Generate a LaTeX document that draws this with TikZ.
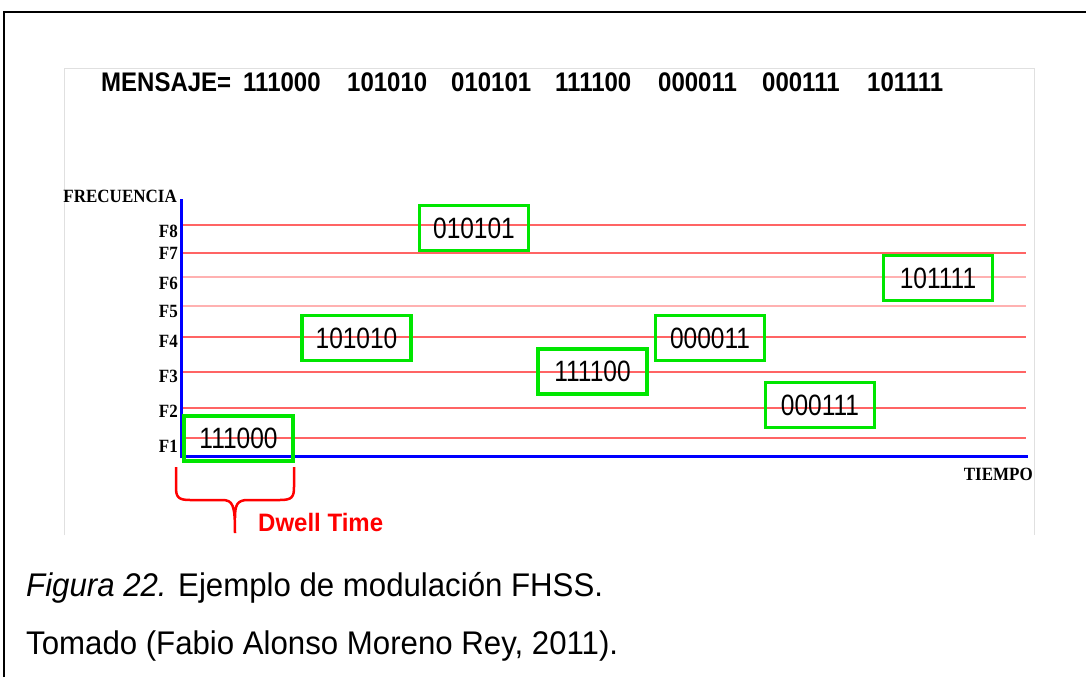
\documentclass[tikz,border=0pt]{standalone}
\usepackage{graphicx}
\usepackage{fontspec}
\setmainfont{Liberation Sans}
\newfontfamily\serifface{Liberation Serif}
% text set slightly taller than wide
\newcommand{\tallbox}[2]{\scalebox{1}[#1]{#2}}
\begin{document}
\begin{tikzpicture}[x=1pt,y=-1pt,
  hopbox/.style={draw=hopgreen,line width=3.5pt,minimum width=109pt,minimum height=45pt,
    inner sep=0pt,font=\fontsize{24.5}{28}\selectfont},
  msg/.style={anchor=base west,inner sep=0pt,font=\bfseries\fontsize{24}{28}\selectfont},
  flabel/.style={anchor=base east,inner sep=0pt,font=\serifface\bfseries\fontsize{17}{19}\selectfont},
  chan/.style={draw=chanred,line width=2pt},
  chanlight/.style={draw=chanred!50,line width=2pt},
  axis/.style={draw=blue,line width=3pt},
  caption/.style={anchor=base west,inner sep=0pt,font=\fontsize{31.2}{36}\selectfont}]
\definecolor{hopgreen}{RGB}{0,230,0}
\definecolor{chanred}{RGB}{255,100,100}
\useasboundingbox (0,0) rectangle (1086,677);
\fill[white] (0,0) rectangle (1086,677);

% outer frame: top and left rules
\draw[line width=2.5pt] (4,677) -- (4,12) -- (1086,12);

% figure panel
\draw[black!12,line width=1pt] (64,535) -- (64,68) -- (1034,68) -- (1034,535);

% message line
\node[msg] (mhead) at (101,92) {\tallbox{1.12}{MENSAJE=}};
\node[msg] (m1) at (243,92) {\tallbox{1.12}{111000}};
\node[msg] (m2) at (347,92) {\tallbox{1.12}{101010}};
\node[msg] (m3) at (451,92) {\tallbox{1.12}{010101}};
\node[msg] (m4) at (555,92) {\tallbox{1.12}{111100}};
\node[msg] (m5) at (658,92) {\tallbox{1.12}{000011}};
\node[msg] (m6) at (762,92) {\tallbox{1.12}{000111}};
\node[msg] (m7) at (867,92) {\tallbox{1.12}{101111}};

% channel lines F1..F8
\foreach \n/\y/\st in {8/225/chan,7/253/chan,6/277/chanlight,5/306/chanlight,
                      4/337/chan,3/372/chan,2/408/chan,1/438/chan}{
  \coordinate (c\n a) at (183,\y);
  \coordinate (c\n b) at (1026,\y);
  \draw[\st] (c\n a) -- (c\n b);
}

% axes
\coordinate (origin) at (181.5,456);
\coordinate (ytop) at (181.5,199);
\coordinate (xend) at (1028,456);
\draw[axis] (ytop) -- (origin) -- (xend);

\node[flabel] (yl) at (177,202) {\tallbox{1.1}{FRECUENCIA}};
\node[flabel] (xl) at (1033,480) {\tallbox{1.1}{TIEMPO}};

\node[flabel] (f8) at (178,237) {\tallbox{1.1}{F8}};
\node[flabel] (f7) at (178,259) {\tallbox{1.1}{F7}};
\node[flabel] (f6) at (178,289) {\tallbox{1.1}{F6}};
\node[flabel] (f5) at (178,317) {\tallbox{1.1}{F5}};
\node[flabel] (f4) at (178,347) {\tallbox{1.1}{F4}};
\node[flabel] (f3) at (178,382) {\tallbox{1.1}{F3}};
\node[flabel] (f2) at (178,417) {\tallbox{1.1}{F2}};
\node[flabel] (f1) at (178,452) {\tallbox{1.1}{F1}};

% hops
\node[hopbox] (h1) at (238.5,438.5) {\tallbox{1.2}{111000}};
\node[hopbox] (h2) at (356.5,338) {\tallbox{1.2}{101010}};
\node[hopbox] (h3) at (474,228) {\tallbox{1.2}{010101}};
\node[hopbox] (h4) at (592.5,371.5) {\tallbox{1.2}{111100}};
\node[hopbox] (h5) at (710,338) {\tallbox{1.2}{000011}};
\node[hopbox] (h6) at (820,405) {\tallbox{1.2}{000111}};
\node[hopbox] (h7) at (938,278) {\tallbox{1.2}{101111}};

% dwell time brace
\coordinate (bl) at (176,467);
\coordinate (br) at (294,467);
\coordinate (btip) at (235,533);
\draw[red,line width=2.5pt,line join=round]
  (bl) -- (176,487) .. controls (176,497) and (178,500) .. (190,500)
  -- (222,500) .. controls (233,500) and (235,505) .. (btip)
  (br) -- (294,487) .. controls (294,497) and (292,500) .. (280,500)
  -- (248,500) .. controls (237,500) and (235,505) .. (235,518);
\node[anchor=base west,inner sep=0pt,text=red,font=\bfseries\fontsize{24}{28}\selectfont]
  (dwell) at (258,531) {\tallbox{1.05}{Dwell Time}};

% caption
\node[caption] (cap1) at (26,596) {\tallbox{1.05}{\textit{Figura 22.} Ejemplo de modulación FHSS.}};
\node[caption] (cap2) at (26,654) {\tallbox{1.05}{Tomado (Fabio Alonso Moreno Rey, 2011).}};
\end{tikzpicture}
\end{document}
